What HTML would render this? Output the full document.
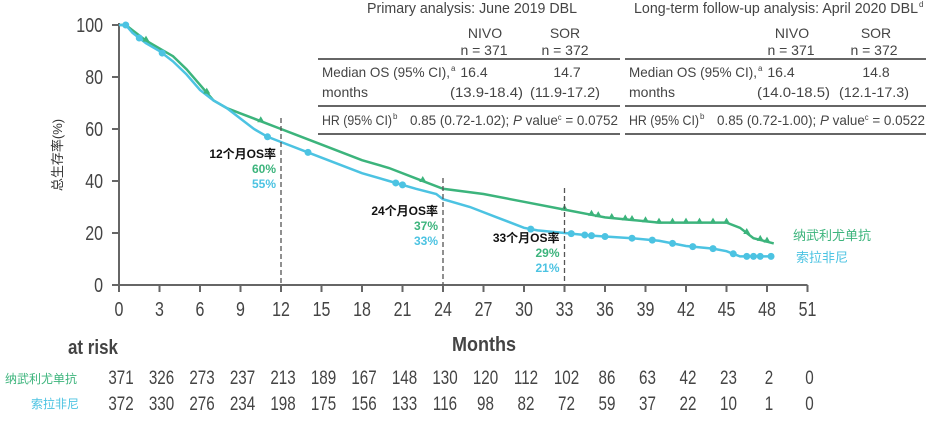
<!DOCTYPE html>
<html><head><meta charset="utf-8">
<style>
html,body{margin:0;padding:0;background:#fff;}
svg{display:block;}
.t{font-family:"Liberation Sans",sans-serif;fill:#444;}
.cjk{font-family:"Liberation Sans","Noto Sans CJK SC",sans-serif;}
</style></head>
<body>
<svg id="chart" width="936" height="422" viewBox="0 0 936 422" xmlns="http://www.w3.org/2000/svg">
<g class="t" font-size="14">
<text x="367" y="13" font-size="15" textLength="210" lengthAdjust="spacingAndGlyphs">Primary analysis: June 2019 DBL</text>
<text x="485" y="38" text-anchor="middle">NIVO</text><text x="565" y="38" text-anchor="middle">SOR</text>
<text x="484" y="55" text-anchor="middle">n = 371</text><text x="565" y="55" text-anchor="middle">n = 372</text>
<line x1="318" y1="59" x2="620" y2="59" stroke="#666" stroke-width="2"/>
<text x="322" y="77" textLength="128" lengthAdjust="spacingAndGlyphs">Median OS (95% CI),</text><text x="451" y="71" font-size="8">a</text>
<text x="474" y="77" text-anchor="middle">16.4</text><text x="567" y="77" text-anchor="middle">14.7</text>
<text x="322" y="97" textLength="46" lengthAdjust="spacingAndGlyphs">months</text>
<text x="450" y="97" textLength="73" lengthAdjust="spacingAndGlyphs">(13.9-18.4)</text><text x="530" y="97" textLength="70" lengthAdjust="spacingAndGlyphs">(11.9-17.2)</text>
<line x1="318" y1="106" x2="620" y2="106" stroke="#666" stroke-width="2"/>
<text x="322" y="125" textLength="70" lengthAdjust="spacingAndGlyphs">HR (95% CI)</text><text x="393" y="119" font-size="8">b</text>
<text x="410" y="125" textLength="208" lengthAdjust="spacingAndGlyphs">0.85 (0.72-1.02); <tspan font-style="italic">P</tspan> value<tspan font-size="8" dy="-5">c</tspan><tspan dy="5"> = 0.0752</tspan></text>
<line x1="318" y1="134" x2="620" y2="134" stroke="#666" stroke-width="2"/>
</g>
<g class="t" font-size="14">
<text x="634" y="13" font-size="15" textLength="284" lengthAdjust="spacingAndGlyphs">Long-term follow-up analysis: April 2020 DBL</text><text x="919" y="7" font-size="8">d</text>
<text x="792" y="38" text-anchor="middle">NIVO</text><text x="876" y="38" text-anchor="middle">SOR</text>
<text x="791" y="55" text-anchor="middle">n = 371</text><text x="874" y="55" text-anchor="middle">n = 372</text>
<line x1="625" y1="59" x2="926" y2="59" stroke="#666" stroke-width="2"/>
<text x="629" y="77" textLength="128" lengthAdjust="spacingAndGlyphs">Median OS (95% CI),</text><text x="758" y="71" font-size="8">a</text>
<text x="781" y="77" text-anchor="middle">16.4</text><text x="876" y="77" text-anchor="middle">14.8</text>
<text x="629" y="97" textLength="46" lengthAdjust="spacingAndGlyphs">months</text>
<text x="757" y="97" textLength="73" lengthAdjust="spacingAndGlyphs">(14.0-18.5)</text><text x="839" y="97" textLength="70" lengthAdjust="spacingAndGlyphs">(12.1-17.3)</text>
<line x1="625" y1="106" x2="926" y2="106" stroke="#666" stroke-width="2"/>
<text x="629" y="125" textLength="70" lengthAdjust="spacingAndGlyphs">HR (95% CI)</text><text x="700" y="119" font-size="8">b</text>
<text x="717" y="125" textLength="208" lengthAdjust="spacingAndGlyphs">0.85 (0.72-1.00); <tspan font-style="italic">P</tspan> value<tspan font-size="8" dy="-5">c</tspan><tspan dy="5"> = 0.0522</tspan></text>
<line x1="625" y1="134" x2="926" y2="134" stroke="#666" stroke-width="2"/>
</g>
<g id="axes"></g>
<g id="marks"></g>
<g id="annot"></g>
<text class="cjk" font-size="13" fill="#333" transform="translate(62,155) rotate(-90)" text-anchor="middle">总生存率(%)</text>
<text class="t" font-size="20" font-weight="bold" fill="#555" x="452" y="351" textLength="64" lengthAdjust="spacingAndGlyphs">Months</text>
<text class="t" font-size="20" font-weight="bold" fill="#555" x="68" y="354" textLength="50" lengthAdjust="spacingAndGlyphs">at risk</text>
<text class="cjk" font-size="13" fill="#3cb47c" x="793" y="240">纳武利尤单抗</text>
<text class="cjk" font-size="13" fill="#4cc3e2" x="796" y="262">索拉非尼</text>
<text class="cjk" font-size="12" fill="#3cb47c" x="5" y="383">纳武利尤单抗</text>
<text class="cjk" font-size="12" fill="#4cc3e2" x="31" y="408">索拉非尼</text>
<g id="risk"></g>
</svg>
<script>
const xTicks=[0,3,6,9,12,15,18,21,24,27,30,33,36,39,42,45,48,51];
const yTicks=[0,20,40,60,80,100];
const nivoMonths=[0,0.5,1,2,3,4,5,6,7,8,9,10,11,12,13,15,18,20,22,24,27,30,33,35,36,38,40,45,46,47,48.5];
const nivoSurv=[100,100,98,94,91,88,83,77,71,68,66,64,62,60,58,54,48,45,41,37,35,32,29,27,26,25,24,24,22,18,16];
const sorMonths=[0,0.5,1,2,3,4,5,6,7,8,9,10,11,12,14,16,18,20,22,23.5,24,26,28,30,31,33,35,38,40,42,44,45,46,48,48.5];
const sorSurv=[100,100,97,93,90,86,81,75,71,68,64,60,57,55,51,47,43,40,37,35,33,30,26,22,21,20,19,18,17,15,14,13,11,11,11];
const nivoCensor=[2,6.5,10.5,22.5,33,35,35.5,36.5,37.5,38,39,40,41,42,43,44,45,46.5,47.5,48];
const sorCensor=[0.5,1.5,3.2,11,14,20.5,21,30.5,33.5,34.5,35,36,38,39.5,41,42.5,44,45.5,46.5,47,47.5,48.3];
const riskNivo=[371,326,273,237,213,189,167,148,130,120,112,102,86,63,42,23,2,0];
const riskSor=[372,330,276,234,198,175,156,133,116,98,82,72,59,37,22,10,1,0];
const landmarks=[12,24,33];
const landNivo=[60,37,29];
const landSor=[55,33,21];

const NS="http://www.w3.org/2000/svg";
const X=m=>119+m*13.5, Y=v=>285-v*2.6;
function mk(tag,attrs,parent,text){const e=document.createElementNS(NS,tag);for(const k in attrs)e.setAttribute(k,attrs[k]);if(text!==undefined)e.textContent=text;parent.appendChild(e);return e;}
const axes=document.getElementById('axes'),marks=document.getElementById('marks'),annot=document.getElementById('annot'),risk=document.getElementById('risk');
const ax=mk('line',{x1:X(0),y1:Y(0),x2:X(51),y2:Y(0),stroke:'#666','stroke-width':2},axes);


const ay=mk('line',{x1:X(0),y1:Y(0),x2:X(0),y2:Y(100)-2,stroke:'#666','stroke-width':2},axes);


const SX=0.8;
xTicks.forEach(t=>{
  mk('line',{x1:X(t),y1:Y(0),x2:X(t),y2:Y(0)+7,stroke:'#666','stroke-width':2},axes);
  const l=mk('text',{transform:`translate(${X(t)},316) scale(${SX},1)`,'text-anchor':'middle','font-size':20,class:'t'},axes,String(t));
  
  
});
yTicks.forEach(t=>{
  mk('line',{x1:X(0)-7,y1:Y(t),x2:X(0),y2:Y(t),stroke:'#666','stroke-width':2},axes);
  const l=mk('text',{transform:`translate(103,${Y(t)+7}) scale(${SX},1)`,'text-anchor':'end','font-size':20,class:'t'},axes,String(t));
  
  
});
function interp(ms,vs,m){for(let i=1;i<ms.length;i++){if(m<=ms[i]){const f=(m-ms[i-1])/(ms[i]-ms[i-1]);return vs[i-1]+f*(vs[i]-vs[i-1]);}}return vs[vs.length-1];}
function curve(ms,vs,col,name){
  let d='M'+X(ms[0])+' '+Y(vs[0]);
  for(let i=1;i<ms.length;i++)d+=' L'+X(ms[i])+' '+Y(vs[i]);
  const p=mk('path',{d:d,fill:'none',stroke:col,'stroke-width':2.5},marks);
  
  
}
curve(nivoMonths,nivoSurv,'#3cb47c','nivo-curve');
curve(sorMonths,sorSurv,'#4cc3e2','sor-curve');
nivoCensor.forEach(m=>{const cx=X(m),cy=Y(interp(nivoMonths,nivoSurv,m));
  const t=mk('path',{d:`M${cx-3.5} ${cy+1} L${cx+3.5} ${cy+1} L${cx} ${cy-5} Z`,fill:'#3cb47c'},marks);
  
  });
sorCensor.forEach(m=>{const c=mk('circle',{cx:X(m),cy:Y(interp(sorMonths,sorSurv,m)),r:3.5,fill:'#4cc3e2'},marks);
  
  });
const tops=[118,178,188];
landmarks.forEach((m,i)=>{
  const l=mk('line',{x1:X(m),y1:tops[i],x2:X(m),y2:Y(0),stroke:'#555','stroke-width':1.3,'stroke-dasharray':'5,3'},annot);
  
  
  const ty=[158,215,242][i], tx=X(m)-5;
  const a=mk('text',{x:tx,y:ty,'text-anchor':'end','font-size':12,'font-weight':'bold',fill:'#111',class:'cjk'},annot,m+'个月OS率');
  
  
  const b=mk('text',{x:tx,y:ty+15,'text-anchor':'end','font-size':12,'font-weight':'bold',fill:'#3cb47c',class:'cjk'},annot,landNivo[i]+'%');
  
  
  const c=mk('text',{x:tx,y:ty+30,'text-anchor':'end','font-size':12,'font-weight':'bold',fill:'#4cc3e2',class:'cjk'},annot,landSor[i]+'%');
  
  
});
xTicks.forEach((t,i)=>{
  const a=mk('text',{transform:`translate(${X(t)+2},384) scale(${SX},1)`,'text-anchor':'middle','font-size':19,class:'t'},risk,String(riskNivo[i]));
  
  
  const b=mk('text',{transform:`translate(${X(t)+2},410) scale(${SX},1)`,'text-anchor':'middle','font-size':19,class:'t'},risk,String(riskSor[i]));
  
  
});
</script>
</body></html>
